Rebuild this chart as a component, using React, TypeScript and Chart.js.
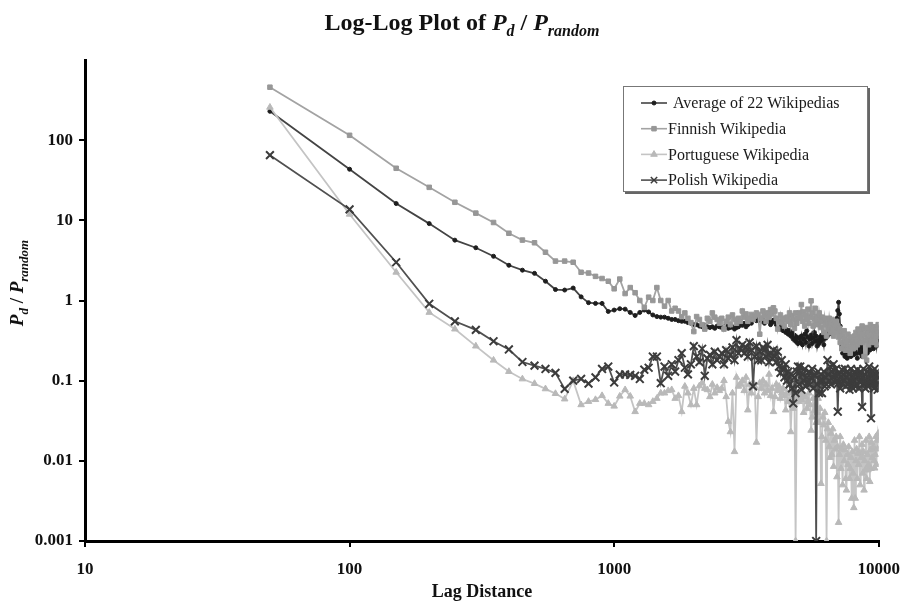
import React, { useEffect, useRef } from "react";
import { Chart, registerables } from "chart.js";
import { drawPoint } from "chart.js/helpers";

Chart.register(...registerables);

const lagDistance = [
  50, 100, 150, 200, 250, 300, 350, 400, 450, 500,
  550, 600, 650, 700, 750, 800, 850, 900, 950, 1000,
  1050, 1100, 1150, 1200, 1250, 1300, 1350, 1400, 1450, 1500,
  1550, 1600, 1650, 1700, 1750, 1800, 1850, 1900, 1950, 2000,
  2050, 2100, 2150, 2200, 2250, 2300, 2350, 2400, 2450, 2500,
  2550, 2600, 2650, 2700, 2750, 2800, 2850, 2900, 2950, 3000,
  3050, 3100, 3150, 3200, 3250, 3300, 3350, 3400, 3450, 3500,
  3550, 3600, 3650, 3700, 3750, 3800, 3850, 3900, 3950, 4000,
  4050, 4100, 4150, 4200, 4250, 4300, 4350, 4400, 4450, 4500,
  4550, 4600, 4650, 4700, 4750, 4800, 4850, 4900, 4950, 5000,
  5050, 5100, 5150, 5200, 5250, 5300, 5350, 5400, 5450, 5500,
  5550, 5600, 5650, 5700, 5750, 5800, 5850, 5900, 5950, 6000,
  6050, 6100, 6150, 6200, 6250, 6300, 6350, 6400, 6450, 6500,
  6550, 6600, 6650, 6700, 6750, 6800, 6850, 6900, 6950, 7000,
  7050, 7100, 7150, 7200, 7250, 7300, 7350, 7400, 7450, 7500,
  7550, 7600, 7650, 7700, 7750, 7800, 7850, 7900, 7950, 8000,
  8050, 8100, 8150, 8200, 8250, 8300, 8350, 8400, 8450, 8500,
  8550, 8600, 8650, 8700, 8750, 8800, 8850, 8900, 8950, 9000,
  9050, 9100, 9150, 9200, 9250, 9300, 9350, 9400, 9450, 9500,
  9550, 9600, 9650, 9700, 9750, 9800, 9850, 9900, 9950, 10000,
];

const averageOf22 = [
  229, 43.4, 16.2, 9.1, 5.66, 4.55, 3.56, 2.75, 2.39, 2.18,
  1.74, 1.37, 1.35, 1.43, 1.11, 0.94, 0.92, 0.92, 0.73, 0.76,
  0.79, 0.78, 0.71, 0.65, 0.71, 0.76, 0.72, 0.66, 0.63, 0.62,
  0.62, 0.6, 0.58, 0.58, 0.56, 0.55, 0.55, 0.53, 0.52, 0.5,
  0.5, 0.48, 0.47, 0.49, 0.47, 0.46, 0.47, 0.45, 0.48, 0.47,
  0.46, 0.47, 0.48, 0.45, 0.46, 0.47, 0.44, 0.46, 0.47, 0.5,
  0.49, 0.52, 0.47, 0.5, 0.55, 0.52, 0.58, 0.6, 0.56, 0.62,
  0.58, 0.55, 0.57, 0.52, 0.56, 0.58, 0.54, 0.5, 0.53, 0.57,
  0.55, 0.5, 0.47, 0.52, 0.44, 0.48, 0.42, 0.45, 0.4, 0.43,
  0.38, 0.42, 0.36, 0.4, 0.33, 0.37, 0.31, 0.35, 0.29, 0.34,
  0.3, 0.36, 0.28, 0.33, 0.38, 0.3, 0.42, 0.35, 0.27, 0.33,
  0.37, 0.29, 0.34, 0.4, 0.31, 0.36, 0.27, 0.32, 0.29, 0.35,
  0.31, 0.37, 0.33, 0.28, 0.38, 0.34, 0.4, 0.36, 0.43, 0.39,
  0.41, 0.45, 0.38, 0.43, 0.47, 0.4, 0.44, 0.52, 0.6, 0.75,
  0.95, 0.68, 0.48, 0.33, 0.27, 0.22, 0.3, 0.25, 0.2, 0.26,
  0.23, 0.19, 0.27, 0.22, 0.3, 0.24, 0.2, 0.28, 0.23, 0.26,
  0.21, 0.25, 0.29, 0.22, 0.27, 0.19, 0.24, 0.3, 0.26, 0.22,
  0.28, 0.23, 0.2, 0.26, 0.31, 0.24, 0.21, 0.27, 0.33, 0.25,
  0.22, 0.29, 0.26, 0.34, 0.24, 0.3, 0.27, 0.36, 0.28, 0.31,
  0.25, 0.33, 0.29, 0.38, 0.3, 0.27, 0.35, 0.31, 0.4, 0.37,
];

const finnish = [
  458, 115, 44.6, 25.8, 16.8, 12.3, 9.4, 6.9, 5.67, 5.25,
  4.0, 3.1, 3.1, 3.0, 2.25, 2.2, 2.0, 1.88, 1.74, 1.4,
  1.85, 1.22, 1.45, 1.25, 1.0, 0.82, 1.1, 1.0, 1.45, 1.0,
  0.85, 1.0, 0.74, 0.8, 0.74, 0.63, 0.7, 0.6, 0.53, 0.41,
  0.63, 0.58, 0.5, 0.44, 0.6, 0.55, 0.7, 0.62, 0.58, 0.52,
  0.6, 0.44, 0.55, 0.62, 0.5, 0.66, 0.58, 0.52, 0.6, 0.55,
  0.74, 0.62, 0.68, 0.55, 0.6, 0.67, 0.58, 0.64, 0.7, 0.67,
  0.38, 0.6, 0.74, 0.65, 0.55, 0.7, 0.62, 0.77, 0.68, 0.81,
  0.74, 0.6, 0.44, 0.55, 0.66, 0.53, 0.6, 0.48, 0.58, 0.62,
  0.55, 0.7, 0.5, 0.65, 0.58, 0.45, 0.7, 0.52, 0.6, 0.7,
  0.62, 0.89, 0.55, 0.72, 0.48, 0.66, 0.58, 0.78, 0.52, 0.62,
  0.99, 0.7, 0.48, 0.6, 0.8, 0.55, 0.63, 0.5, 0.7, 0.58,
  0.46, 0.62, 0.55, 0.4, 0.6, 0.5, 0.36, 0.55, 0.45, 0.6,
  0.5, 0.4, 0.58, 0.45, 0.36, 0.5, 0.42, 0.55, 0.4, 0.48,
  0.35, 0.45, 0.3, 0.4, 0.25, 0.36, 0.28, 0.42, 0.33, 0.24,
  0.3, 0.26, 0.38, 0.24, 0.32, 0.22, 0.35, 0.27, 0.31, 0.25,
  0.3, 0.36, 0.26, 0.4, 0.31, 0.28, 0.44, 0.33, 0.38, 0.3,
  0.42, 0.35, 0.48, 0.3, 0.44, 0.2, 0.38, 0.32, 0.46, 0.18,
  0.4, 0.34, 0.28, 0.45, 0.32, 0.5, 0.36, 0.3, 0.42, 0.32,
  0.38, 0.47, 0.3, 0.41, 0.35, 0.44, 0.28, 0.4, 0.5, 0.36,
];

const portuguese = [
  257, 11.9, 2.25, 0.71, 0.44, 0.27, 0.18, 0.13, 0.105, 0.092,
  0.079, 0.069, 0.059, 0.1, 0.05, 0.055, 0.058, 0.065, 0.052, 0.048,
  0.064, 0.077, 0.064, 0.041, 0.052, 0.052, 0.05, 0.055, 0.06, 0.07,
  0.07, 0.075, 0.077, 0.06, 0.065, 0.041, 0.085, 0.07, 0.05, 0.08,
  0.05, 0.086, 0.094, 0.08, 0.077, 0.063, 0.09, 0.07, 0.082, 0.075,
  0.08, 0.1, 0.063, 0.031, 0.023, 0.07, 0.013, 0.11, 0.085, 0.09,
  0.1, 0.075, 0.11, 0.043, 0.09, 0.07, 0.095, 0.085, 0.017, 0.063,
  0.094, 0.08, 0.1, 0.07, 0.09, 0.075, 0.12, 0.065, 0.08, 0.041,
  0.063, 0.09, 0.075, 0.085, 0.06, 0.07, 0.08, 0.065, 0.043, 0.07,
  0.055, 0.07, 0.023, 0.06, 0.045, 0.075, 0.001, 0.063, 0.07, 0.055,
  0.063, 0.058, 0.07, 0.04, 0.065, 0.063, 0.045, 0.055, 0.07, 0.05,
  0.024, 0.035, 0.06, 0.042, 0.05, 0.03, 0.04, 0.06, 0.03, 0.045,
  0.0052, 0.02, 0.035, 0.028, 0.04, 0.018, 0.001, 0.025, 0.03, 0.015,
  0.011, 0.022, 0.012, 0.025, 0.0085, 0.018, 0.014, 0.02, 0.0063, 0.015,
  0.0017, 0.012, 0.02, 0.008, 0.014, 0.005, 0.016, 0.01, 0.0137, 0.006,
  0.0043, 0.012, 0.009, 0.015, 0.006, 0.008, 0.011, 0.0034, 0.013, 0.007,
  0.0026, 0.018, 0.0034, 0.01, 0.014, 0.006, 0.0124, 0.009, 0.02, 0.005,
  0.0124, 0.011, 0.016, 0.007, 0.013, 0.0043, 0.01, 0.0077, 0.018, 0.006,
  0.012, 0.0077, 0.009, 0.02, 0.0055, 0.0137, 0.008, 0.017, 0.011, 0.014,
  0.015, 0.01, 0.0081, 0.012, 0.02, 0.009, 0.018, 0.014, 0.022, 0.02,
];

const polish = [
  65, 13.7, 3.0, 0.91, 0.55, 0.43, 0.31, 0.245, 0.171, 0.154,
  0.14, 0.125, 0.079, 0.1, 0.105, 0.092, 0.11, 0.14, 0.15, 0.095,
  0.119, 0.12, 0.118, 0.115, 0.105, 0.137, 0.145, 0.2, 0.2, 0.093,
  0.15, 0.115, 0.16, 0.13, 0.18, 0.22, 0.145, 0.12, 0.16, 0.27,
  0.2, 0.17, 0.25, 0.115, 0.19, 0.21, 0.16, 0.23, 0.18, 0.2,
  0.22, 0.16, 0.24, 0.19, 0.21, 0.26, 0.18, 0.32, 0.22, 0.25,
  0.28, 0.22, 0.26, 0.2, 0.3, 0.24, 0.085, 0.2, 0.27, 0.18,
  0.23, 0.18, 0.26, 0.24, 0.2, 0.28, 0.17, 0.22, 0.19, 0.24,
  0.2, 0.17, 0.23, 0.15, 0.125, 0.18, 0.14, 0.11, 0.16, 0.1,
  0.13, 0.09, 0.12, 0.08, 0.052, 0.11, 0.07, 0.13, 0.15, 0.09,
  0.15, 0.077, 0.12, 0.1, 0.14, 0.085, 0.11, 0.095, 0.13, 0.09,
  0.11, 0.14, 0.08, 0.12, 0.115, 0.001, 0.09, 0.13, 0.07, 0.1,
  0.12, 0.07, 0.1, 0.13, 0.085, 0.11, 0.09, 0.18, 0.12, 0.1,
  0.15, 0.09, 0.13, 0.11, 0.16, 0.12, 0.095, 0.14, 0.1, 0.041,
  0.094, 0.12, 0.08, 0.11, 0.137, 0.09, 0.12, 0.1, 0.14, 0.085,
  0.11, 0.13, 0.09, 0.12, 0.077, 0.1, 0.14, 0.09, 0.115, 0.08,
  0.1, 0.13, 0.085, 0.12, 0.09, 0.137, 0.11, 0.08, 0.12, 0.095,
  0.13, 0.1, 0.047, 0.11, 0.14, 0.09, 0.12, 0.08, 0.1, 0.094,
  0.13, 0.085, 0.11, 0.15, 0.095, 0.12, 0.034, 0.1, 0.13, 0.09,
  0.12, 0.08, 0.14, 0.1, 0.115, 0.09, 0.13, 0.077, 0.11, 0.115,
];

const seriesNames = [
  "Average of 22 Wikipedias",
  "Finnish Wikipedia",
  "Portuguese Wikipedia",
  "Polish Wikipedia",
];

const xTickValues = [10, 100, 1000, 10000];
const xTickLabels = ["10", "100", "1000", "10000"];
const yTickValues = [0.001, 0.01, 0.1, 1, 10, 100];
const yTickLabels = ["0.001", "0.01", "0.1", "1", "10", "100"];

const SERIF = "'Liberation Serif', 'Times New Roman', serif";

type Seg = { text: string; font: string; dy?: number };

function drawRich(ctx: CanvasRenderingContext2D, segs: Seg[], cx: number, cy: number) {
  let total = 0;
  for (const s of segs) {
    ctx.font = s.font;
    total += ctx.measureText(s.text).width;
  }
  let x = cx - total / 2;
  for (const s of segs) {
    ctx.font = s.font;
    ctx.fillText(s.text, x, cy + (s.dy || 0));
    x += ctx.measureText(s.text).width;
  }
}

const styles = [
  { line: "#444444", fill: "#1e1e1e", stroke: "#1e1e1e", pointStyle: "circle", radius: 2, pbw: 1 },
  { line: "#a3a3a3", fill: "#979797", stroke: "#979797", pointStyle: "rect", radius: 3.2, pbw: 1 },
  { line: "#c4c4c4", fill: "#b9b9b9", stroke: "#b9b9b9", pointStyle: "triangle", radius: 3.8, pbw: 1 },
  { line: "#505050", fill: "#3c3c3c", stroke: "#3c3c3c", pointStyle: "crossRot", radius: 5.5, pbw: 2 },
];

const overlayPlugin = {
  id: "overlay",
  afterDraw(chart: any) {
    const ctx: CanvasRenderingContext2D = chart.ctx;
    ctx.save();
    ctx.fillStyle = "#111";
    ctx.textBaseline = "alphabetic";
    ctx.textAlign = "left";
    // Title
    drawRich(
      ctx,
      [
        { text: "Log-Log Plot of ", font: `bold 24px ${SERIF}` },
        { text: "P", font: `italic bold 24px ${SERIF}` },
        { text: "d", font: `italic bold 16px ${SERIF}`, dy: 6 },
        { text: " / ", font: `bold 24px ${SERIF}` },
        { text: "P", font: `italic bold 24px ${SERIF}` },
        { text: "random", font: `italic bold 16px ${SERIF}`, dy: 6 },
      ],
      462,
      30
    );
    // X axis title
    drawRich(ctx, [{ text: "Lag Distance", font: `bold 18px ${SERIF}` }], 482, 597);
    // Y axis title
    ctx.save();
    ctx.translate(23, 283);
    ctx.rotate(-Math.PI / 2);
    drawRich(
      ctx,
      [
        { text: "P", font: `italic bold 19px ${SERIF}` },
        { text: "d", font: `italic bold 13px ${SERIF}`, dy: 5 },
        { text: " / ", font: `bold 19px ${SERIF}` },
        { text: "P", font: `italic bold 19px ${SERIF}` },
        { text: "random", font: `italic bold 13px ${SERIF}`, dy: 5 },
      ],
      0,
      0
    );
    ctx.restore();

    // Legend
    const bx = 623, by = 86, bw = 245, bh = 106;
    ctx.fillStyle = "#666";
    ctx.fillRect(bx + 2, by + 2, bw, bh);
    ctx.fillStyle = "#fff";
    ctx.fillRect(bx, by, bw, bh);
    ctx.strokeStyle = "#777";
    ctx.lineWidth = 1;
    ctx.strokeRect(bx + 0.5, by + 0.5, bw - 1, bh - 1);
    ctx.textBaseline = "middle";
    for (let i = 0; i < seriesNames.length; i++) {
      const st = styles[i];
      const y = 103 + i * 25.7;
      ctx.strokeStyle = st.line;
      ctx.lineWidth = 1.6;
      ctx.beginPath();
      ctx.moveTo(641, y);
      ctx.lineTo(667, y);
      ctx.stroke();
      ctx.fillStyle = st.fill;
      ctx.strokeStyle = st.stroke;
      ctx.lineWidth = i === 3 ? 1.5 : 1;
      drawPoint(ctx, { pointStyle: st.pointStyle as any, radius: i === 3 ? 4.5 : st.radius, rotation: 0, borderWidth: ctx.lineWidth } as any, 654, y);
      ctx.fillStyle = "#1a1a1a";
      ctx.font = `16px ${SERIF}`;
      ctx.textAlign = "left";
      ctx.fillText(seriesNames[i], i === 0 ? 673 : 668, y + 1);
    }
    ctx.restore();
  },
};

export default function App() {
  const canvasRef = useRef<HTMLCanvasElement | null>(null);

  useEffect(() => {
    const canvas = canvasRef.current;
    if (!canvas) return;
    const allSeries = [averageOf22, finnish, portuguese, polish];
    const orders = [3, 2, 1, 0];
    const datasets = allSeries.map((vals, i) => ({
      label: seriesNames[i],
      data: lagDistance.map((x, j) => ({ x, y: vals[j] })),
      borderColor: styles[i].line,
      backgroundColor: styles[i].fill,
      pointBackgroundColor: styles[i].fill,
      pointBorderColor: styles[i].stroke,
      pointStyle: styles[i].pointStyle as any,
      pointRadius: styles[i].radius,
      pointBorderWidth: styles[i].pbw,
      borderWidth: 1.8,
      tension: 0,
      fill: false,
      order: orders[i],
    }));

    const tickFont = { family: SERIF, size: 17, weight: "bold" as const };

    const chart = new Chart(canvas, {
      type: "line",
      data: { datasets },
      plugins: [overlayPlugin],
      options: {
        responsive: false,
        animation: false,
        devicePixelRatio: 1,
        layout: { padding: { top: 60, right: 32, left: 0, bottom: 0 } },
        plugins: {
          legend: { display: false },
          title: { display: false },
          tooltip: { enabled: false },
        },
        scales: {
          x: {
            type: "logarithmic",
            min: 10,
            max: 10000,
            afterBuildTicks: (s: any) => {
              s.ticks = xTickValues.map((v) => ({ value: v }));
            },
            afterFit: (s: any) => {
              s.height = 64;
            },
            ticks: {
              autoSkip: false,
              maxRotation: 0,
              color: "#111",
              font: tickFont,
              padding: 12,
              callback: (v: any) => {
                const i = xTickValues.indexOf(Number(v));
                return i >= 0 ? xTickLabels[i] : "";
              },
            },
            grid: {
              display: true,
              drawOnChartArea: false,
              drawTicks: true,
              tickLength: 6,
              color: "#000",
              lineWidth: 2,
            },
            border: { display: true, color: "#000", width: 3 },
          },
          y: {
            type: "logarithmic",
            min: 0.001,
            max: 1000,
            afterBuildTicks: (s: any) => {
              s.ticks = yTickValues.map((v) => ({ value: v }));
            },
            afterFit: (s: any) => {
              s.width = 85;
            },
            ticks: {
              autoSkip: false,
              color: "#111",
              font: tickFont,
              padding: 6,
              callback: (v: any) => {
                const i = yTickValues.indexOf(Number(v));
                return i >= 0 ? yTickLabels[i] : "";
              },
            },
            grid: {
              display: true,
              drawOnChartArea: false,
              drawTicks: true,
              tickLength: 6,
              color: "#000",
              lineWidth: 2,
            },
            border: { display: true, color: "#000", width: 3 },
          },
        },
      } as any,
    });
    return () => chart.destroy();
  }, []);

  return (
    <div style={{ position: "absolute", left: 0, top: 0, width: 912, height: 605, background: "#fff" }}>
      <canvas ref={canvasRef} width={912} height={605} style={{ display: "block" }} />
    </div>
  );
}
